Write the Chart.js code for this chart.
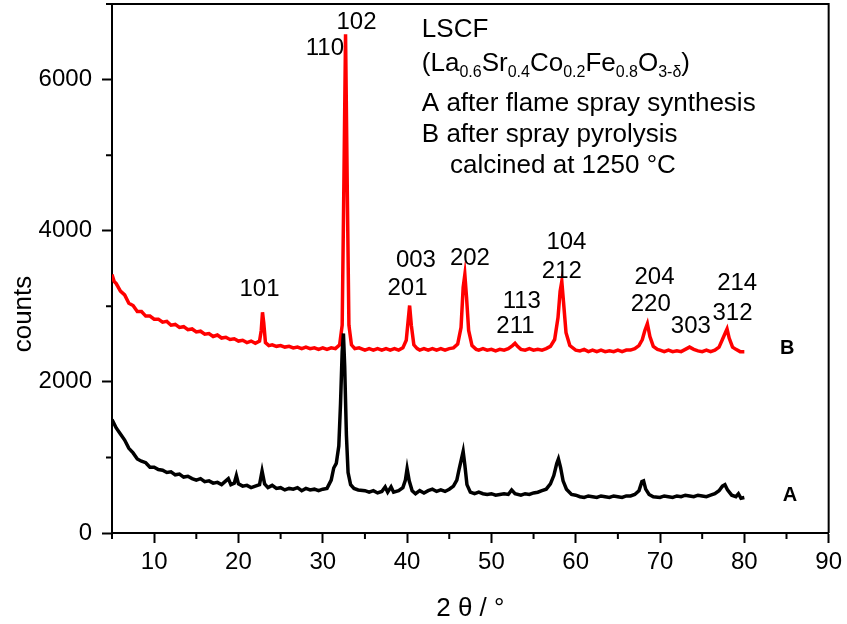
<!DOCTYPE html>
<html>
<head>
<meta charset="utf-8">
<script src="https://cdn.jsdelivr.net/npm/chart.js@4.4.1/dist/chart.umd.min.js"></script>
<style>
    html, body { margin: 0; padding: 0; background: #fff; }
    #xrd-wrap { width: 847px; height: 624px; }
</style>
</head>
<body>
<div id="xrd-wrap"><canvas id="xrd-chart" width="847" height="624"></canvas></div>
<script>
// sample A: after flame spray synthesis (black)
const angleA = [
    5, 5.5, 6, 6.5, 7, 7.5, 8, 8.5, 9, 9.5, 10, 10.5, 11, 11.5, 12, 12.5, 13, 13.5, 14, 14.5,
    15, 15.5, 16, 16.5, 17, 17.5, 18, 18.5, 18.8, 19.1, 19.5, 19.75, 20, 20.5, 21, 21.5, 22, 22.5,
    22.8, 23.1, 23.5, 24, 24.5, 25, 25.5, 26, 26.5, 27, 27.5, 28, 28.5, 29, 29.5, 30, 30.5, 31,
    31.3, 31.6, 31.9, 32.1, 32.3, 32.45, 32.6, 32.8, 33, 33.3, 33.7, 34.2, 35, 35.5, 36, 36.5, 37,
    37.4, 37.7, 38.1, 38.4, 39, 39.5, 39.8, 40, 40.25, 40.6, 41, 41.5, 42, 42.5, 43, 43.5, 44,
    44.5, 45, 45.5, 45.9, 46.2, 46.45, 46.65, 46.85, 47.1, 47.5, 48, 48.5, 49, 49.5, 50, 50.5, 51,
    51.5, 52, 52.4, 52.8, 53.5, 54, 54.5, 55, 55.5, 56, 56.5, 57, 57.4, 57.75, 57.95, 58.2, 58.5,
    58.9, 59.5, 60, 60.5, 61, 61.5, 62, 62.5, 63, 63.5, 64, 64.5, 65, 65.5, 66, 66.5, 67, 67.5,
    67.85, 68.05, 68.3, 68.7, 69.2, 70, 70.5, 71, 71.5, 72, 72.5, 73, 73.5, 74, 74.5, 75, 75.5,
    76, 76.5, 77, 77.4, 77.7, 78, 78.5, 79, 79.3, 79.6, 80
];
const countsA = [
    1500, 1390, 1310, 1230, 1120, 1060, 980, 950, 930, 870, 870, 840, 830, 800, 810, 770, 780, 740, 750, 720,
    700, 720, 680, 690, 660, 670, 640, 690, 720, 640, 660, 760, 650, 620, 630, 600, 620, 640,
    820, 650, 600, 630, 590, 600, 570, 590, 580, 600, 560, 590, 570, 580, 560, 580, 590, 700,
    860, 920, 1150, 1700, 2400, 2640, 2200, 1300, 800, 640, 590, 570, 560, 540, 560, 530, 550,
    610, 540, 610, 540, 560, 600, 700, 850, 690, 560, 520, 560, 530, 560, 580, 550, 570,
    550, 580, 620, 700, 860, 980, 1080, 900, 640, 540, 520, 540, 520, 510, 520, 500, 510,
    520, 510, 570, 520, 500, 520, 510, 530, 540, 560, 580, 650, 760, 920, 980, 870, 690,
    580, 510, 500, 480, 470, 490, 480, 470, 490, 480, 470, 490, 480, 470, 490, 490, 510, 560,
    680, 690, 580, 510, 480, 470, 490, 480, 470, 490, 480, 500, 490, 480, 500, 490, 480,
    500, 520, 560, 620, 640, 570, 500, 480, 520, 460, 470
];

// sample B: after spray pyrolysis, calcined at 1250 °C (red)
const angleB = [
    5, 5.25, 5.5, 6, 6.5, 7, 7.5, 8, 8.5, 9, 9.5, 10, 10.5, 11, 11.5, 12, 12.5, 13, 13.5, 14, 14.5,
    15, 15.5, 16, 16.5, 17, 17.5, 18, 18.5, 19, 19.5, 20, 20.5, 21, 21.5, 22, 22.5, 22.7, 22.85,
    23, 23.2, 23.6, 24, 24.5, 25, 25.5, 26, 26.5, 27, 27.5, 28, 28.5, 29, 29.5, 30, 30.5, 31, 31.5,
    32, 32.3, 32.5, 32.7, 32.9, 33.1, 33.4, 33.8, 34.3, 35, 35.5, 36, 36.5, 37, 37.5, 38, 38.5, 39,
    39.5, 39.9, 40.15, 40.3, 40.5, 40.8, 41.2, 41.5, 42, 42.5, 43, 43.5, 44, 44.5, 45, 45.5, 46,
    46.4, 46.65, 46.85, 47.05, 47.3, 47.7, 48.2, 48.5, 49, 49.5, 50, 50.5, 51, 51.5, 52, 52.5,
    52.8, 53.1, 53.5, 54, 54.5, 55, 55.5, 56, 56.5, 57, 57.5, 57.9, 58.15, 58.35, 58.55, 58.85,
    59.3, 60, 60.5, 61, 61.5, 62, 62.5, 63, 63.5, 64, 64.5, 65, 65.5, 66, 66.5, 67, 67.5, 67.9,
    68.2, 68.5, 68.8, 69.2, 69.7, 70, 70.5, 71, 71.5, 72, 72.5, 73, 73.5, 74, 74.5, 75, 75.5, 76,
    76.5, 77, 77.4, 77.75, 77.95, 78.2, 78.6, 79, 79.5, 80
];
const countsB = [
    3420, 3330, 3300, 3200, 3150, 3040, 3010, 2930, 2930, 2870, 2870, 2830, 2830, 2790, 2800, 2750, 2760, 2720, 2730, 2690, 2700,
    2660, 2670, 2630, 2640, 2600, 2620, 2580, 2590, 2560, 2570, 2540, 2550, 2520, 2540, 2510, 2540, 2680, 2920,
    2780, 2520, 2480, 2490, 2470, 2480, 2460, 2470, 2450, 2460, 2440, 2460, 2440, 2450, 2430, 2450, 2430, 2450, 2440,
    2490, 2750, 4600, 6600, 4600, 2750, 2490, 2440, 2450, 2420, 2440, 2420, 2440, 2420, 2440, 2420, 2440, 2420,
    2450, 2550, 2840, 3010, 2750, 2490, 2440, 2420, 2440, 2420, 2440, 2420, 2440, 2420, 2440, 2450, 2500,
    2720, 3250, 3420, 3120, 2680, 2480, 2430, 2420, 2440, 2420, 2430, 2410, 2430, 2420, 2440, 2480,
    2510, 2470, 2430, 2420, 2440, 2420, 2430, 2420, 2440, 2470, 2560, 2850, 3200, 3330, 3060, 2650,
    2480, 2420, 2410, 2430, 2400, 2420, 2400, 2420, 2400, 2410, 2400, 2420, 2400, 2420, 2420, 2440, 2480, 2560,
    2680, 2770, 2600, 2470, 2430, 2420, 2400, 2420, 2400, 2410, 2400, 2430, 2460, 2430, 2410, 2400, 2420, 2400,
    2420, 2460, 2560, 2650, 2700, 2580, 2460, 2430, 2400, 2400
];

// axis ticks
const xTicks = [10, 20, 30, 40, 50, 60, 70, 80, 90];
const xMinorTicks = [5, 15, 25, 35, 45, 55, 65, 75, 85];
const yTicks = [0, 2000, 4000, 6000];
const yMinorTicks = [1000, 3000, 5000, 7000];

// reflection indices (label, 2θ, counts at baseline)
const hklLabels = ["102", "110", "101", "003", "201", "202", "104", "212", "113", "211", "204", "220", "303", "214", "312"];
const hklAngles = [34.0, 30.25, 22.5, 41.05, 40.05, 47.45, 58.9, 58.35, 53.6, 52.85, 69.35, 68.9, 73.65, 79.15, 78.6];
const hklCounts = [6670, 6330, 3140, 3520, 3150, 3540, 3760, 3380, 2980, 2650, 3290, 2940, 2650, 3220, 2820];

const FONT = '"Liberation Sans", Arial, sans-serif';

function pairs(xs, ys) {
    return xs.map((x, i) => ({ x: x, y: ys[i] }));
}

const annotate = {
    id: "annotate",
    afterDraw(chart) {
        const ctx = chart.ctx;
        const area = chart.chartArea;
        const sx = chart.scales.x;
        const sy = chart.scales.y;
        ctx.save();

        // box top and right
        ctx.strokeStyle = "#000";
        ctx.lineWidth = 2;
        ctx.beginPath();
        ctx.moveTo(area.left - 6, area.top);
        ctx.lineTo(area.right, area.top);
        ctx.lineTo(area.right, area.bottom);
        ctx.stroke();

        // minor ticks
        ctx.beginPath();
        xMinorTicks.forEach((v) => {
            const px = sx.getPixelForValue(v);
            ctx.moveTo(px, area.bottom);
            ctx.lineTo(px, area.bottom + 6);
        });
        yMinorTicks.forEach((v) => {
            const py = sy.getPixelForValue(v);
            ctx.moveTo(area.left, py);
            ctx.lineTo(area.left - 6, py);
        });
        ctx.stroke();

        ctx.fillStyle = "#000";
        ctx.textBaseline = "alphabetic";

        // hkl labels
        ctx.font = "24px " + FONT;
        ctx.textAlign = "center";
        hklLabels.forEach((t, i) => {
            ctx.fillText(t, sx.getPixelForValue(hklAngles[i]), sy.getPixelForValue(hklCounts[i]));
        });

        // curve names
        ctx.font = "bold 20px " + FONT;
        ctx.fillText("B", sx.getPixelForValue(85.1), sy.getPixelForValue(2370));
        ctx.fillText("A", sx.getPixelForValue(85.4), sy.getPixelForValue(420));

        // sample description
        ctx.textAlign = "left";
        ctx.font = "26px " + FONT;
        const tx = sx.getPixelForValue(41.75);
        ctx.fillText("LSCF", tx, sy.getPixelForValue(6560));
        ctx.fillText("A after flame spray synthesis", tx, sy.getPixelForValue(5590));
        ctx.fillText("B after spray pyrolysis", tx, sy.getPixelForValue(5180));
        ctx.fillText("calcined at 1250 °C", sx.getPixelForValue(45.1), sy.getPixelForValue(4770));

        // formula with subscripts
        const parts = [["(La", 0], ["0.6", 1], ["Sr", 0], ["0.4", 1], ["Co", 0], ["0.2", 1],
            ["Fe", 0], ["0.8", 1], ["O", 0], ["3-δ", 1], [")", 0]];
        let fx = tx;
        const fy = sy.getPixelForValue(6110);
        parts.forEach(([s, sub]) => {
            ctx.font = (sub ? "16px " : "26px ") + FONT;
            ctx.fillText(s, fx, fy + (sub ? 6 : 0));
            fx += ctx.measureText(s).width;
        });

        // axis titles
        ctx.font = "26px " + FONT;
        ctx.textAlign = "center";
        ctx.fillText("2 θ / °", (area.left + area.right) / 2, 616);
        ctx.translate(31, 314);
        ctx.rotate(-Math.PI / 2);
        ctx.fillText("counts", 0, 0);
        ctx.restore();
    },
};

document.addEventListener("DOMContentLoaded", function () {
    const el = document.getElementById("xrd-chart");
    new Chart(el, {
        type: "line",
        data: {
            datasets: [
                {
                    label: "A",
                    data: pairs(angleA, countsA),
                    borderColor: "#000000",
                    borderWidth: 3.5,
                    pointRadius: 0,
                },
                {
                    label: "B",
                    data: pairs(angleB, countsB),
                    borderColor: "#ff0000",
                    borderWidth: 3.5,
                    pointRadius: 0,
                },
            ],
        },
        options: {
            responsive: false,
            animation: false,
            events: [],
            layout: { padding: { left: 0, right: 18, top: 4, bottom: 0 } },
            plugins: {
                legend: { display: false },
                tooltip: { enabled: false },
            },
            scales: {
                x: {
                    type: "linear",
                    min: 5,
                    max: 90,
                    afterBuildTicks: (s) => {
                        s.ticks = xTicks.map((v) => ({ value: v }));
                    },
                    afterFit: (s) => {
                        s.height = 91;
                    },
                    ticks: {
                        color: "#000",
                        font: { family: FONT, size: 24 },
                        padding: 5,
                        maxRotation: 0,
                        autoSkip: false,
                        callback: (v) => String(v),
                    },
                    grid: {
                        drawOnChartArea: false,
                        tickLength: 10,
                        tickWidth: 2,
                        tickColor: "#000",
                    },
                    border: { color: "#000", width: 2 },
                },
                y: {
                    min: 0,
                    max: 7000,
                    afterBuildTicks: (s) => {
                        s.ticks = yTicks.map((v) => ({ value: v }));
                    },
                    afterFit: (s) => {
                        s.width = 112;
                        s.paddingTop = 0;
                        s.paddingBottom = 0;
                    },
                    ticks: {
                        color: "#000",
                        font: { family: FONT, size: 24 },
                        padding: 10,
                        callback: (v) => String(v),
                    },
                    grid: {
                        drawOnChartArea: false,
                        tickLength: 10,
                        tickWidth: 2,
                        tickColor: "#000",
                    },
                    border: { color: "#000", width: 2 },
                },
            },
        },
        plugins: [annotate],
    });
});
</script>
</body>
</html>
